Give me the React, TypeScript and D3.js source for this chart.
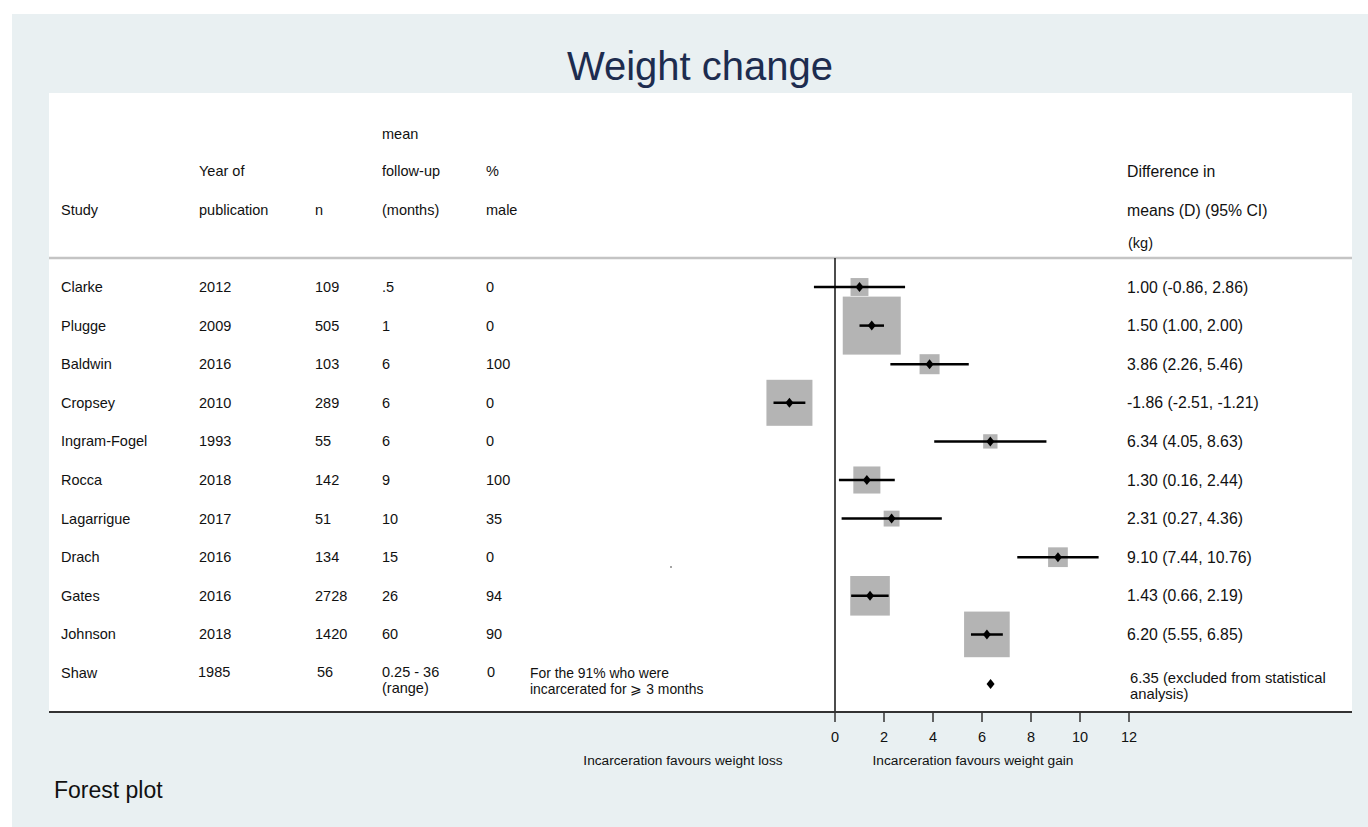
import React from "react";
import * as d3 from "d3";

const studies = ["Clarke", "Plugge", "Baldwin", "Cropsey", "Ingram-Fogel", "Rocca", "Lagarrigue", "Drach", "Gates", "Johnson", "Shaw"];
const years = ["2012", "2009", "2016", "2010", "1993", "2018", "2017", "2016", "2016", "2018", "1985"];
const ns = ["109", "505", "103", "289", "55", "142", "51", "134", "2728", "1420", "56"];
const followUp = [".5", "1", "6", "6", "6", "9", "10", "15", "26", "60", "0.25 - 36"];
const pctMale = ["0", "0", "100", "0", "0", "100", "35", "0", "94", "90", "0"];
const estimates = [1.0, 1.5, 3.86, -1.86, 6.34, 1.3, 2.31, 9.1, 1.43, 6.2, 6.35];
const lower = [-0.86, 1.0, 2.26, -2.51, 4.05, 0.16, 0.27, 7.44, 0.66, 5.55, NaN];
const upper = [2.86, 2.0, 5.46, -1.21, 8.63, 2.44, 4.36, 10.76, 2.19, 6.85, NaN];
const weights = [2.8, 29.4, 3.5, 18.5, 1.8, 6.4, 2.2, 3.4, 13.7, 18.2, NaN];
const ciLabels = [
  "1.00 (-0.86, 2.86)", "1.50 (1.00, 2.00)", "3.86 (2.26, 5.46)", "-1.86 (-2.51, -1.21)",
  "6.34 (4.05, 8.63)", "1.30 (0.16, 2.44)", "2.31 (0.27, 4.36)", "9.10 (7.44, 10.76)",
  "1.43 (0.66, 2.19)", "6.20 (5.55, 6.85)",
];
const shawNote = ["For the 91% who were", "incarcerated for \u2a7e 3 months"];
const shawRight = ["6.35 (excluded from statistical", "analysis)"];
const xTicks = [0, 2, 4, 6, 8, 10, 12];

const FONT = "'Liberation Sans', Arial, sans-serif";

export default function App() {
  const W = 1368, H = 827;
  const x = d3.scaleLinear().domain([0, 12]).range([835, 1129]);
  const y = d3.scalePoint<string>().domain(studies).range([287, 673]);
  const size = d3.scaleSqrt().domain([0, 29.4]).range([0, 58]);

  const colX = { study: 61, year: 199, n: 315, fu: 382, male: 486, right: 1127 };
  const txt = { fontFamily: FONT, fontSize: 14.5, fill: "#111" } as const;
  const rtxt = { fontFamily: FONT, fontSize: 15.8, fill: "#111" } as const;
  const diamond = (cx: number, cy: number, s = 5) =>
    `M${cx},${cy - s}L${cx + s * 0.8},${cy}L${cx},${cy + s}L${cx - s * 0.8},${cy}Z`;

  const main = studies.slice(0, 10);
  const shawY = y("Shaw")!;

  return (
    <svg width={W} height={H} style={{ position: "absolute", left: 0, top: 0 }}>
      <rect x={0} y={0} width={W} height={H} fill="#ffffff" />
      <rect x={12} y={14} width={W - 12} height={H - 14} fill="#e9f0f2" />
      <rect x={49} y={93} width={1303} height={619} fill="#ffffff" />
      <text x={700} y={66} textAnchor="middle" dominantBaseline="central" fontFamily={FONT} fontSize={40} fill="#1d2c4f">
        Weight change
      </text>

      {/* header */}
      <g {...txt}>
        <text x={colX.fu} y={134} dominantBaseline="central">mean</text>
        <text x={colX.year} y={171} dominantBaseline="central">Year of</text>
        <text x={colX.fu} y={171} dominantBaseline="central">follow-up</text>
        <text x={colX.male} y={171} dominantBaseline="central">%</text>
        <text x={colX.study} y={210} dominantBaseline="central">Study</text>
        <text x={colX.year} y={210} dominantBaseline="central">publication</text>
        <text x={colX.n} y={210} dominantBaseline="central">n</text>
        <text x={colX.fu} y={210} dominantBaseline="central">(months)</text>
        <text x={colX.male} y={210} dominantBaseline="central">male</text>
      </g>
      <g {...rtxt}>
        <text x={colX.right} y={171} dominantBaseline="central">Difference in</text>
        <text x={colX.right} y={210} dominantBaseline="central">means (D) (95% CI)</text>
        <text x={colX.right + 1} y={243} dominantBaseline="central" fontSize={14.5}>(kg)</text>
      </g>
      <line x1={49} x2={1352} y1={258} y2={258} stroke="#c4c4c4" strokeWidth={2.5} />

      {/* null line */}
      <line x1={x(0)} x2={x(0)} y1={258} y2={712} stroke="#111" strokeWidth={1.5} />

      {/* boxes, CIs, points */}
      {main.map((s, i) => {
        const cy = y(s)!;
        const cx = x(estimates[i]);
        const sz = size(weights[i]);
        return (
          <g key={s}>
            <rect x={cx - sz / 2} y={cy - sz / 2} width={sz} height={sz} fill="#b4b4b4" />
            <line x1={x(lower[i])} x2={x(upper[i])} y1={cy} y2={cy} stroke="#000" strokeWidth={2.5} />
            <path d={diamond(cx, cy)} fill="#000" />
          </g>
        );
      })}
      <path d={diamond(x(estimates[10]), shawY + 11)} fill="#000" />
      <circle cx={671} cy={567} r={0.8} fill="#333" />

      {/* table rows */}
      <g {...txt}>
        {main.map((s, i) => {
          const cy = y(s)!;
          return (
            <g key={s}>
              <text x={colX.study} y={cy} dominantBaseline="central">{s}</text>
              <text x={colX.year} y={cy} dominantBaseline="central">{years[i]}</text>
              <text x={colX.n} y={cy} dominantBaseline="central">{ns[i]}</text>
              <text x={colX.fu} y={cy} dominantBaseline="central">{followUp[i]}</text>
              <text x={colX.male} y={cy} dominantBaseline="central">{pctMale[i]}</text>
              <text x={colX.right} y={cy} dominantBaseline="central" {...rtxt}>{ciLabels[i]}</text>
            </g>
          );
        })}
        <text x={colX.study} y={shawY} dominantBaseline="central">{studies[10]}</text>
        <text x={colX.year - 1} y={shawY - 1} dominantBaseline="central">{years[10]}</text>
        <text x={colX.n + 2} y={shawY - 1} dominantBaseline="central">{ns[10]}</text>
        <text x={colX.fu} y={shawY - 1} dominantBaseline="central">{followUp[10]}</text>
        <text x={colX.fu} y={shawY + 15} dominantBaseline="central">(range)</text>
        <text x={colX.male + 1} y={shawY - 1} dominantBaseline="central">{pctMale[10]}</text>
        <text x={530} y={shawY} dominantBaseline="central" fontSize={13.9}>{shawNote[0]}</text>
        <text x={530} y={shawY + 16} dominantBaseline="central" fontSize={13.9}>{shawNote[1]}</text>
        <text x={colX.right + 3} y={shawY + 5} dominantBaseline="central" fontSize={14.8}>{shawRight[0]}</text>
        <text x={colX.right + 3} y={shawY + 21} dominantBaseline="central" fontSize={14.8}>{shawRight[1]}</text>
      </g>

      {/* axis */}
      <line x1={49} x2={1352} y1={712} y2={712} stroke="#333" strokeWidth={2} />
      {xTicks.map((t) => (
        <g key={t}>
          <line x1={x(t)} x2={x(t)} y1={712} y2={722} stroke="#333" strokeWidth={1.5} />
          <text x={x(t)} y={737} textAnchor="middle" dominantBaseline="central" {...txt}>{t}</text>
        </g>
      ))}
      <text x={683} y={760} textAnchor="middle" dominantBaseline="central" {...txt} fontSize={13.7}>
        Incarceration favours weight loss
      </text>
      <text x={973} y={760} textAnchor="middle" dominantBaseline="central" {...txt} fontSize={13.7}>
        Incarceration favours weight gain
      </text>
      <text x={54} y={790} dominantBaseline="central" fontFamily={FONT} fontSize={23} fill="#111">
        Forest plot
      </text>
    </svg>
  );
}
